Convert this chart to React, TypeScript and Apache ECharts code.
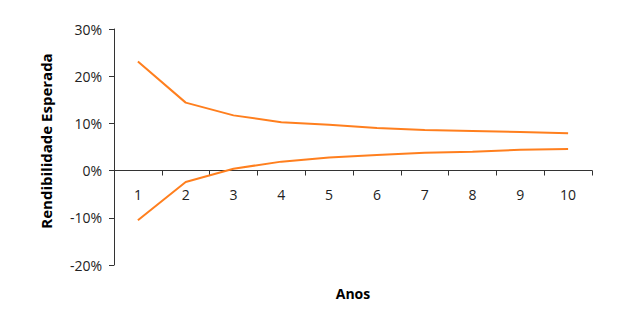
import React, { useEffect, useRef } from "react";
import * as echarts from "echarts";

const anos = ["1", "2", "3", "4", "5", "6", "7", "8", "9", "10"];
const superior = [23.1, 14.4, 11.7, 10.25, 9.7, 9.05, 8.6, 8.4, 8.2, 7.9];
const inferior = [-10.5, -2.4, 0.4, 1.9, 2.8, 3.3, 3.8, 4.0, 4.4, 4.6];
const tituloY = "Rendibilidade Esperada";
const tituloX = "Anos";

const FONT = "'Open Sans', sans-serif";
const ORANGE = "#FF7F1E";

export default function App() {
  const ref = useRef<HTMLDivElement>(null);
  useEffect(() => {
    const chart = echarts.init(ref.current!, undefined, { renderer: "svg" });
    const lineSeries = (data: number[]) => ({
      type: "line",
      data,
      symbol: "none",
      lineStyle: { color: ORANGE, width: 2 },
      itemStyle: { color: ORANGE },
    });
    chart.setOption({
      animation: false,
      backgroundColor: "#ffffff",
      grid: { left: 114, right: 28, top: 29, bottom: 60, containLabel: false, outerBoundsMode: "none" },
      graphic: [
        {
          type: "text",
          x: 46,
          y: 141,
          rotation: Math.PI / 2,
          style: {
            text: tituloY,
            fontFamily: FONT,
            fontSize: 15,
            fontWeight: "bold",
            fill: "#000",
            align: "center",
            verticalAlign: "middle",
          },
        },
      ],
      xAxis: {
        type: "category",
        data: anos,
        boundaryGap: true,
        offset: -94.5,
        name: tituloX,
        nameLocation: "middle",
        nameGap: 116,
        nameTextStyle: { fontFamily: FONT, fontSize: 14, fontWeight: "bold", color: "#000" },
        axisLine: { onZero: false, lineStyle: { color: "#333", width: 1 } },
        axisTick: { show: true, length: 5, lineStyle: { color: "#333" } },
        axisLabel: { margin: 17, fontFamily: FONT, fontSize: 14, color: "#222" },
        splitLine: { show: false },
      },
      yAxis: {
        type: "value",
        min: -20,
        max: 30,
        interval: 10,
        axisLine: { show: true, lineStyle: { color: "#333", width: 1 } },
        axisTick: { show: true, length: 5, lineStyle: { color: "#333" } },
        axisLabel: { formatter: "{value}%", margin: 12, fontFamily: FONT, fontSize: 14, color: "#222" },
        splitLine: { show: false },
      },
      series: [lineSeries(superior), lineSeries(inferior)],
    });
    return () => chart.dispose();
  }, []);
  return <div ref={ref} style={{ width: 620, height: 325, position: "absolute", left: 0, top: 0 }} />;
}
